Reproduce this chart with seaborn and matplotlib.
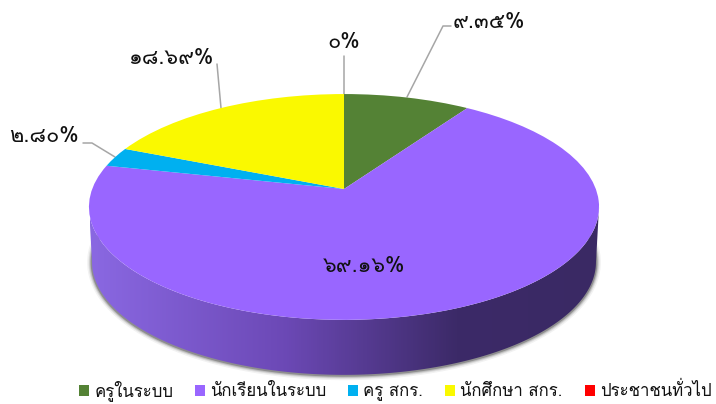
import numpy as np
import matplotlib
matplotlib.use('Agg')
import matplotlib.pyplot as plt
import seaborn as sns
from matplotlib.colors import LinearSegmentedColormap
from matplotlib.patches import Polygon
from matplotlib.transforms import Transform

# ข้อมูล
categories = ['ครูในระบบ', 'นักเรียนในระบบ', 'ครู สกร.', 'นักศึกษา สกร.', 'ประชาชนทั่วไป']
shares = [9.35, 69.16, 2.80, 18.69, 0]
share_labels = ['๙.๓๕%', '๖๙.๑๖%', '๒.๘๐%', '๑๘.๖๙%', '๐%']
slice_colors = ['#548235', '#9966FF', '#00B0F0', '#FAF900', '#FF0000']

# ตำแหน่งป้ายและเส้นโยง (พิกเซล)
label_pos = [(489, 22), (364, 267), (44, 137), (171, 59), (344, 43)]
leaders = [
    [(407, 97), (443, 26), (451, 26)],
    None,
    [(115, 157), (92, 143), (83, 143)],
    [(221, 108), (217, 64)],
    [(344, 94), (344, 56)],
]

sns.set_theme(style='white')
plt.rcParams['font.family'] = ['Loma', 'Noto Sans Thai', 'DejaVu Sans']

# มุมมองของวงกลมหนึ่งหน่วย -> พิกเซล
CX, CY = 344, 189
D, A, C = 251.8, -80.0, 0.159
DEPTH = 55


def project(u, v, shrink=1.0, drop=0.0):
    w = 1 + C * v
    return CX + D * shrink * u / w, (CY + A * v) / w + drop


class PieView(Transform):
    input_dims = 2
    output_dims = 2

    def transform_non_affine(self, values):
        x, y = project(values[:, 0], values[:, 1])
        return np.column_stack([x, y])


fig, ax = plt.subplots(figsize=(7.16, 4.04), dpi=100)
fig.subplots_adjust(0, 0, 1, 1)

wedges, _ = ax.pie(shares, colors=sns.color_palette(slice_colors), startangle=90,
                   counterclock=False, wedgeprops={'linewidth': 0, 'zorder': 5})
ax.set_aspect('auto')
for w in wedges:
    w.set_transform(PieView() + ax.transData)

# ผนังด้านข้าง
theta = np.linspace(np.pi + np.arcsin(C), 2 * np.pi - np.arcsin(C), 200)
tx, ty = project(np.cos(theta), np.sin(theta))
bx, by = project(np.cos(theta), np.sin(theta), shrink=0.988, drop=DEPTH)
low = np.linspace(np.pi - 0.25, 2 * np.pi + 0.25, 240)
sx, sy = project(np.cos(low), np.sin(low), shrink=0.988, drop=DEPTH)

# เงาขอบล่าง
for lw, a in [(7, 0.06), (5, 0.10), (3.5, 0.16), (2, 0.30)]:
    ax.plot(sx, sy + 0.5, color='#222222', lw=lw, alpha=a, zorder=1, solid_capstyle='round')

wall = Polygon(np.column_stack([np.r_[tx, bx[::-1]], np.r_[ty, by[::-1]]]),
               closed=True, transform=ax.transData, facecolor='none', edgecolor='none')
ax.add_patch(wall)
wall_cmap = LinearSegmentedColormap.from_list(
    'wall', [(0, '#8A68E2'), (0.38, '#6C49B6'), (0.72, '#3C2A68'), (1, '#3A2964')])
img = ax.imshow(np.linspace(0, 1, 512)[None, :], cmap=wall_cmap, aspect='auto',
                extent=(90, 600, 380, 200), zorder=2)
img.set_clip_path(wall)

ax.set_xlim(0, 716)
ax.set_ylim(404, 0)

# ป้ายและเส้นโยง
for text, pos, leader in zip(share_labels, label_pos, leaders):
    ax.text(pos[0], pos[1], text, ha='center', va='center', fontsize=15.6,
            color='#111111', zorder=8)
    if leader:
        ax.plot(*zip(*leader), color='#A6A6A6', lw=1.1, zorder=4)

ax.legend(wedges, categories, loc='center', bbox_to_anchor=(0.552, 0.033), ncol=5,
          frameon=False, fontsize=12.1, handlelength=0.6, handleheight=0.6,
          handletextpad=0.3, columnspacing=1.3, labelcolor='#111111',
          borderpad=0, borderaxespad=0)

fig.savefig('out.png', dpi=100)
